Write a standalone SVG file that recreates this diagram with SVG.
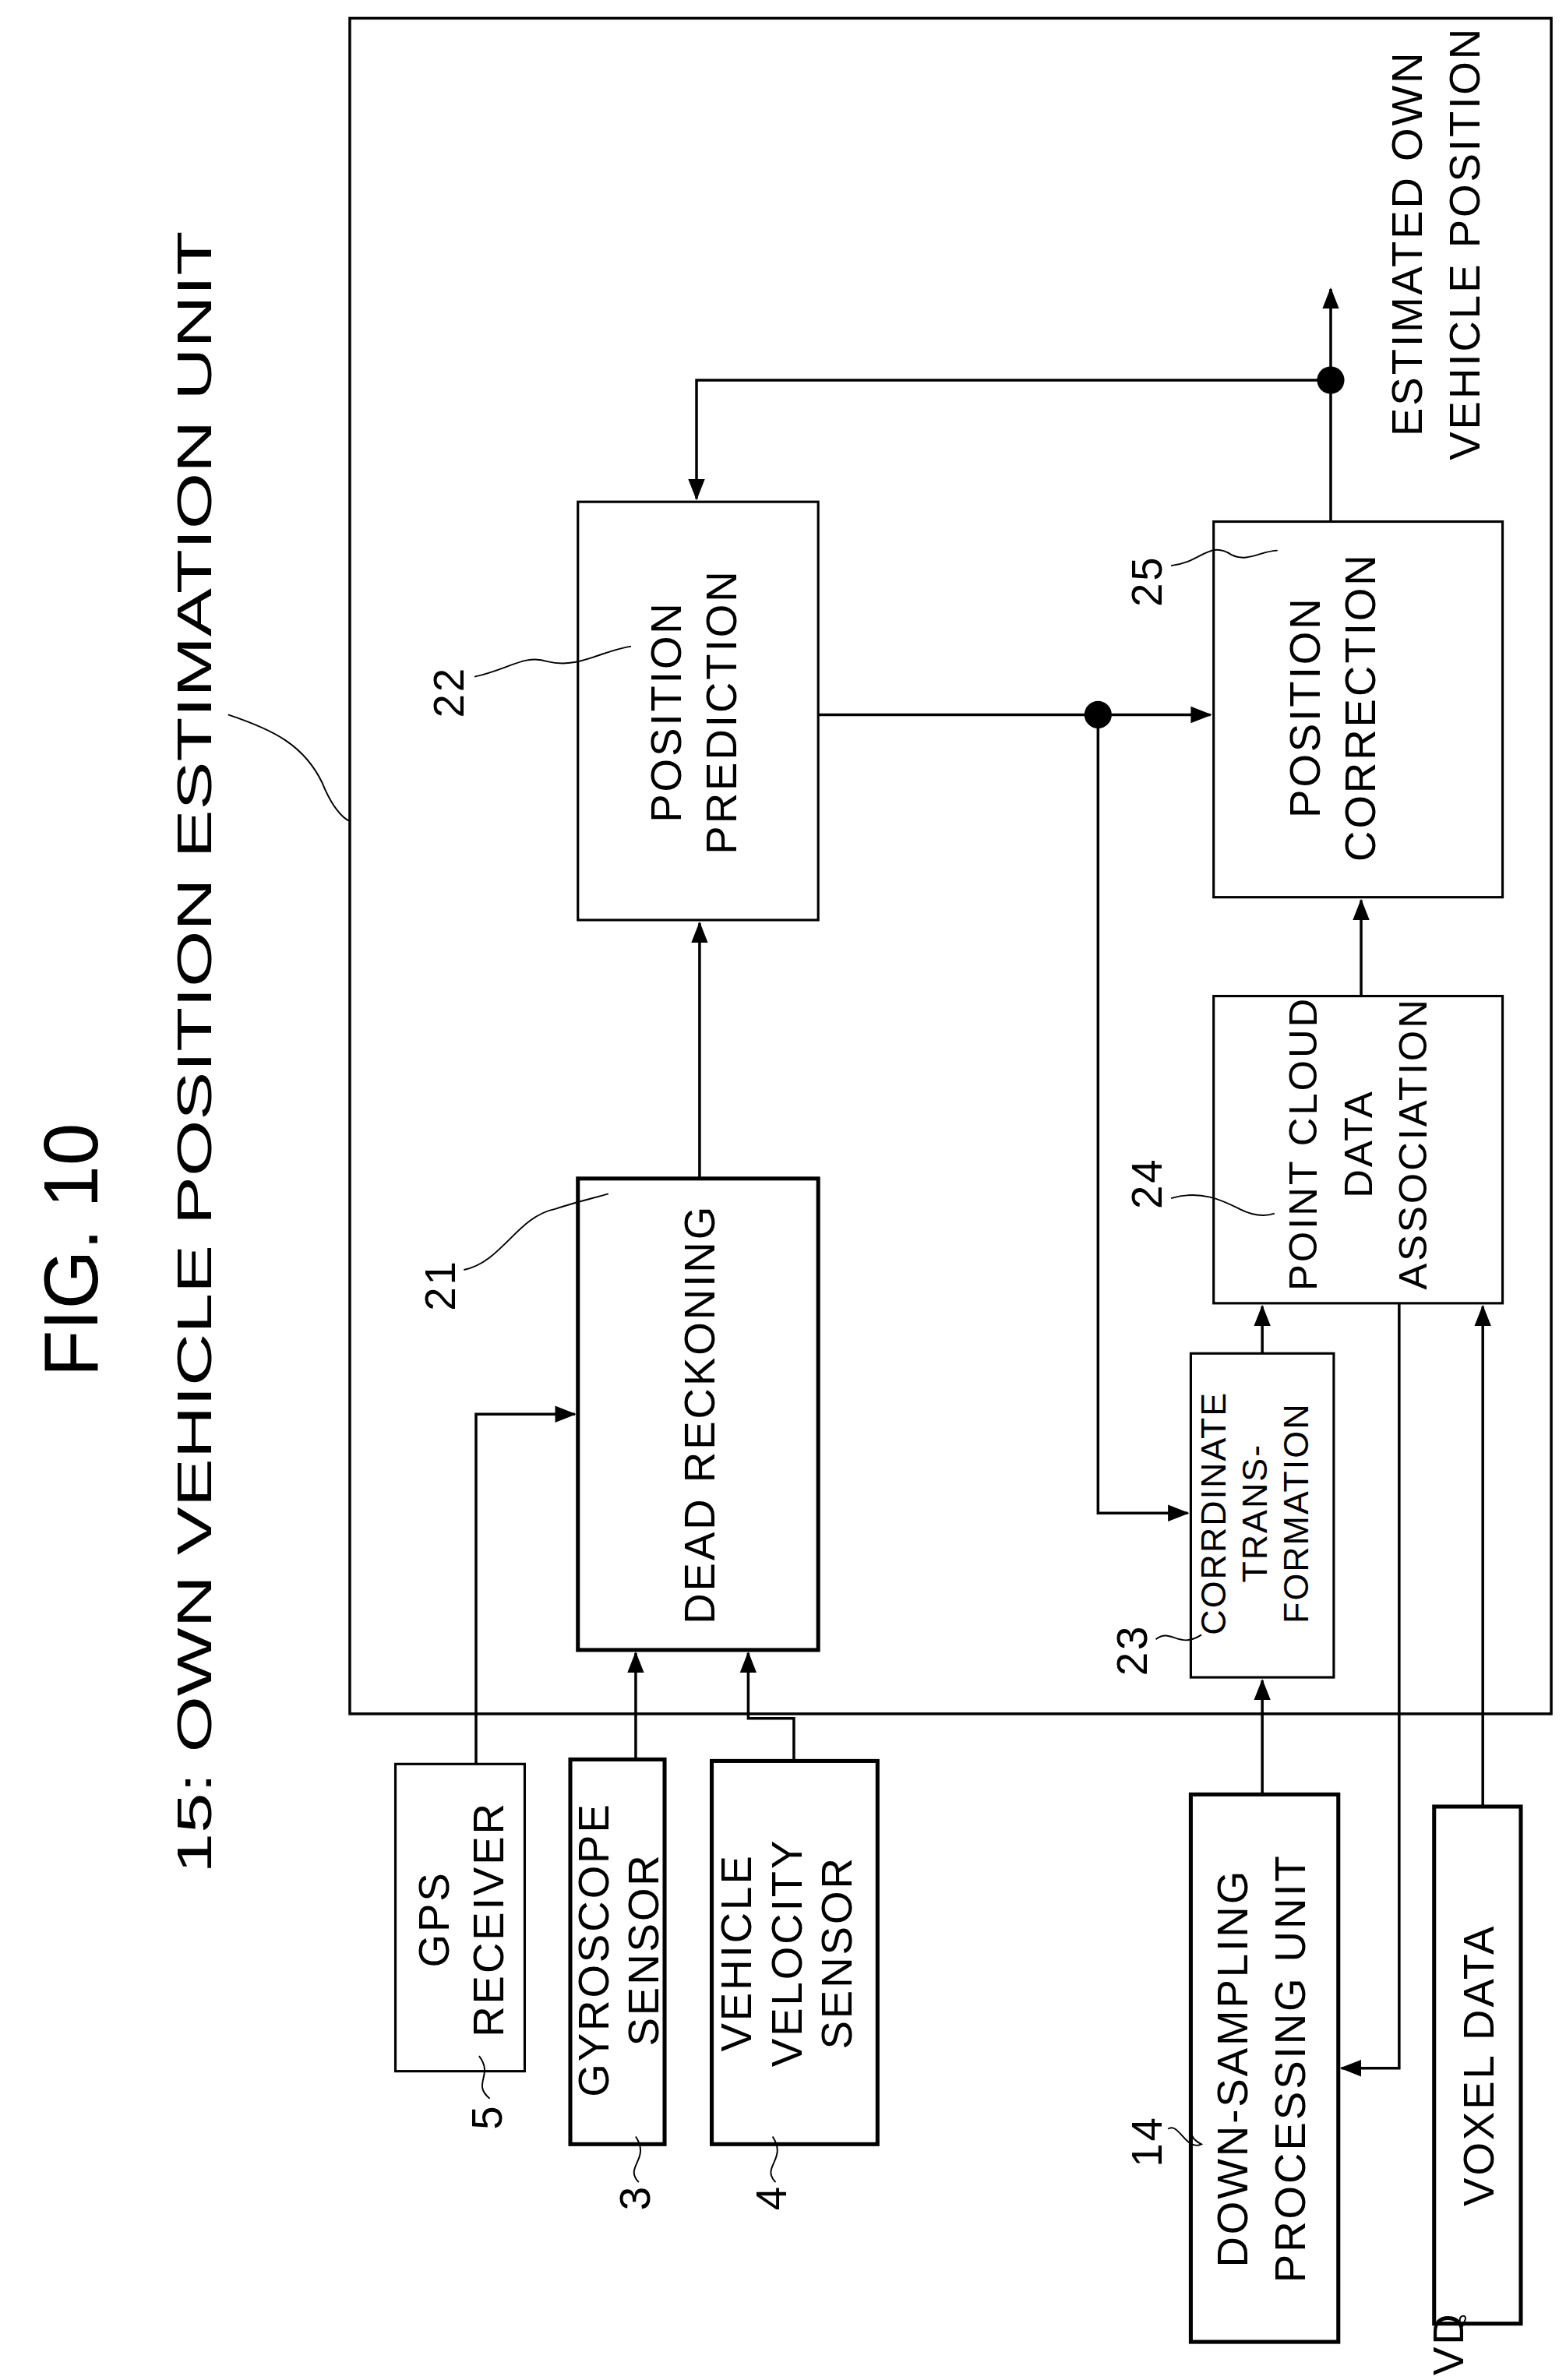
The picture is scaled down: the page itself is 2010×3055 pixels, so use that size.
<svg xmlns="http://www.w3.org/2000/svg" width="2010" height="3055" viewBox="0 0 2010 3055">
<style>
.t{font-family:"Liberation Sans",Arial,sans-serif;font-size:28px;letter-spacing:1.5px;fill:#000;text-anchor:middle}
.b{fill:#fff;stroke:#000;stroke-width:1.6}
.k{fill:#fff;stroke:#000;stroke-width:2.6}
.l{fill:none;stroke:#000;stroke-width:1.8}
.c{fill:none;stroke:#000;stroke-width:1}
</style>
<defs><marker id="a" markerWidth="14" markerHeight="12" refX="13" refY="6" orient="auto" markerUnits="userSpaceOnUse" viewBox="0 0 14 12"><path d="M0,0.5 L14,6 L0,11.5z" fill="#000"/></marker></defs>
<rect width="2010" height="3055" fill="#fff"/>
<g transform="scale(1.952)">
<g id="titles">
<text class="t" style="font-size:50px;letter-spacing:0" transform="translate(64,822) rotate(-90)">FIG. 10</text>
<text class="t" style="font-size:32px;letter-spacing:0" textLength="1080" lengthAdjust="spacingAndGlyphs" transform="translate(139,692) rotate(-90)">15: OWN VEHICLE POSITION ESTIMATION UNIT</text>
<path class="c" d="M150,470 C180,480 200,490 212,515 C218,530 225,538 230,540"/>
<text class="t" style="font-size:28px" transform="translate(935,160) rotate(-90)">ESTIMATED OWN<tspan x="0" dy="38">VEHICLE POSITION</tspan></text>
</g>
<g id="unit15"><rect x="230" y="12" width="790" height="1115" fill="none" stroke="#000" stroke-width="1.8"/></g>
<g id="n22"><rect class="b" x="380" y="330" width="158" height="275"/>
<text class="t" transform="translate(448,468) rotate(-90)">POSITION<tspan x="0" dy="36">PREDICTION</tspan></text>
<text class="t" transform="translate(305,455) rotate(-90)">22</text>
<path class="c" d="M312,445 C335,440 345,430 360,435 C380,440 395,428 415,425"/></g>
<g id="n21"><rect class="k" x="380" y="775" width="158" height="310"/>
<text class="t" transform="translate(470,930) rotate(-90)">DEAD RECKONING</text>
<text class="t" transform="translate(299,845) rotate(-90)">21</text>
<path class="c" d="M305,835 C330,830 340,800 365,795 C380,790 390,788 400,785"/></g>
<g id="n25"><rect class="b" x="798" y="343" width="190" height="247"/>
<text class="t" transform="translate(868,465) rotate(-90)">POSITION<tspan x="0" dy="36">CORRECTION</tspan></text>
<text class="t" transform="translate(764,382) rotate(-90)">25</text>
<path class="c" d="M770,372 C790,370 795,355 810,365 C820,370 830,362 840,362"/></g>
<g id="n24"><rect class="b" x="798" y="655" width="190" height="202"/>
<text class="t" style="font-size:26px" transform="translate(866,752) rotate(-90)">POINT CLOUD<tspan x="0" dy="36">DATA</tspan><tspan x="0" dy="36">ASSOCIATION</tspan></text>
<text class="t" transform="translate(764,778) rotate(-90)">24</text>
<path class="c" d="M770,788 C790,782 805,790 815,795 C825,800 832,800 838,798"/></g>
<g id="n23"><rect class="b" x="783" y="890" width="94" height="213"/>
<text class="t" style="font-size:23px;letter-spacing:1px" transform="translate(806,995) rotate(-90)">CORRDINATE<tspan x="0" dy="27">TRANS-</tspan><tspan x="0" dy="27">FORMATION</tspan></text>
<text class="t" transform="translate(754,1085) rotate(-90)">23</text>
<path class="c" d="M760,1078 C770,1070 775,1085 790,1075"/></g>
<g id="n14"><rect class="k" x="783" y="1180" width="97" height="360"/>
<text class="t" transform="translate(820,1360) rotate(-90)">DOWN-SAMPLING<tspan x="0" dy="38">PROCESSING UNIT</tspan></text>
<text class="t" transform="translate(764,1408) rotate(-90)">14</text>
<path class="c" d="M768,1400 C775,1395 780,1415 790,1410 C780,1405 785,1400 783,1402"/></g>
<g id="nVD"><rect class="k" x="943" y="1188" width="57" height="340"/>
<text class="t" transform="translate(982,1358) rotate(-90)">VOXEL DATA</text>
<text class="t" style="text-anchor:start" transform="translate(962,1562) rotate(-90)">VD</text>
<path class="c" d="M962,1530 C955,1522 968,1520 962,1528"/></g>
<g id="n5"><rect class="b" x="260" y="1160" width="85" height="202"/>
<text class="t" transform="translate(295,1262) rotate(-90)">GPS<tspan x="0" dy="36">RECEIVER</tspan></text>
<text class="t" transform="translate(330,1392) rotate(-90)">5</text>
<path class="c" d="M322,1380 C310,1370 325,1365 315,1352"/></g>
<g id="n3"><rect class="k" x="375" y="1157" width="62" height="253"/>
<text class="t" transform="translate(400,1282) rotate(-90)">GYROSCOPE<tspan x="0" dy="33">SENSOR</tspan></text>
<text class="t" transform="translate(427,1445) rotate(-90)">3</text>
<path class="c" d="M420,1435 C410,1425 428,1420 418,1405"/></g>
<g id="n4"><rect class="k" x="468" y="1158" width="109" height="252"/>
<text class="t" transform="translate(494,1284) rotate(-90)">VEHICLE<tspan x="0" dy="33">VELOCITY</tspan><tspan x="0" dy="33">SENSOR</tspan></text>
<text class="t" transform="translate(517,1445) rotate(-90)">4</text>
<path class="c" d="M510,1435 C500,1425 518,1420 508,1405"/></g>
<g id="connectors">
<path class="l" d="M460,775 V607" marker-end="url(#a)"/>
<path class="l" d="M875,250 H458 V328" marker-end="url(#a)"/>
<path class="l" d="M875,343 V190" marker-end="url(#a)"/>
<path class="l" d="M538,470 H796" marker-end="url(#a)"/>
<path class="l" d="M722,470 V995 H781" marker-end="url(#a)"/>
<path class="l" d="M830,890 V859" marker-end="url(#a)"/>
<path class="l" d="M895,655 V592" marker-end="url(#a)"/>
<path class="l" d="M920,857 V1360 H882" marker-end="url(#a)"/>
<path class="l" d="M975,1188 V859" marker-end="url(#a)"/>
<path class="l" d="M830,1180 V1105" marker-end="url(#a)"/>
<path class="l" d="M313,1160 V930 H378" marker-end="url(#a)"/>
<path class="l" d="M418,1157 V1087" marker-end="url(#a)"/>
<path class="l" d="M522,1158 V1130 H492 V1087" marker-end="url(#a)"/>
<circle cx="875" cy="250" r="9"/>
<circle cx="722" cy="470" r="9"/>
</g>
</g>
</svg>
